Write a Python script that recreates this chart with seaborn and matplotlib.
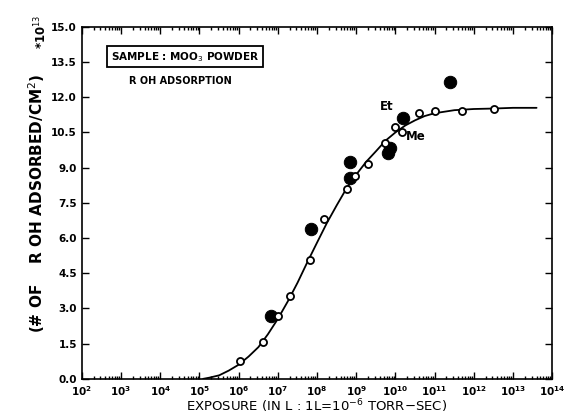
import numpy as np
import pandas as pd
import matplotlib
matplotlib.use("Agg")
import matplotlib.pyplot as plt
import matplotlib.ticker as mticker
import seaborn as sns

# ---------------------------------------------------------------
# Data, exposure in Langmuir
# ---------------------------------------------------------------
me_exp = [1.1e6, 4.2e6, 1.0e7, 2.1e7, 6.5e7, 1.55e8, 5.8e8, 9.1e8, 2.0e9,
          5.5e9, 9.8e9, 1.5e10, 3.9e10, 1.0e11, 4.9e11, 3.3e12]
me_ads = [0.74, 1.59, 2.68, 3.51, 5.07, 6.82, 8.10, 8.65, 9.16,
          10.04, 10.72, 10.50, 11.32, 11.43, 11.43, 11.50]

et_exp = [6.9e6, 7.1e7, 6.9e8, 7.0e8, 6.6e9, 7.4e9, 1.6e10, 2.5e11]
et_ads = [2.68, 6.38, 9.23, 8.58, 9.62, 9.83, 11.13, 12.67]

# fitted curve, read at quarter-decade steps
fit_exp = [1.25e5, 1.8e5, 3.2e5, 5.6e5, 1.0e6, 1.8e6, 3.2e6, 5.6e6, 1.0e7,
           1.8e7, 3.2e7, 5.6e7, 1.0e8, 1.8e8, 3.2e8, 5.6e8, 1.0e9, 1.8e9,
           3.2e9, 5.6e9, 1.0e10, 1.8e10, 3.2e10, 5.6e10, 1.0e11, 3.2e11,
           1.0e12, 3.2e12, 1.0e13, 4.0e13]
fit_ads = [0.0, 0.05, 0.15, 0.35, 0.6, 0.95, 1.35, 1.9, 2.55,
           3.3, 4.1, 4.95, 5.8, 6.65, 7.4, 8.1, 8.7, 9.25,
           9.7, 10.15, 10.5, 10.8, 11.02, 11.2, 11.32, 11.45,
           11.5, 11.52, 11.55, 11.55]

y_ticks = [0.0, 1.5, 3.0, 4.5, 6.0, 7.5, 9.0, 10.5, 12.0, 13.5, 15.0]

me = pd.DataFrame({"exposure": me_exp, "ads": me_ads})
et = pd.DataFrame({"exposure": et_exp, "ads": et_ads})
fit = pd.DataFrame({"exposure": fit_exp, "ads": fit_ads})

# ---------------------------------------------------------------
# Plot
# ---------------------------------------------------------------
sns.set_style("ticks")
plt.rcParams["font.family"] = ["DejaVu Sans"]
for k in ["text.color", "axes.labelcolor", "xtick.color", "ytick.color",
          "axes.edgecolor"]:
    plt.rcParams[k] = "black"

fig = plt.figure(figsize=(5.64, 4.2), dpi=100)
ax = fig.add_axes([0.145, 0.098, 0.834, 0.838])

sns.lineplot(data=fit, x="exposure", y="ads", ax=ax, color="black", lw=1.3,
             sort=False)
sns.scatterplot(data=et, x="exposure", y="ads", ax=ax, color="black",
                s=80, edgecolor="black", zorder=3)
sns.scatterplot(data=me, x="exposure", y="ads", ax=ax, facecolor="white",
                edgecolor="black", linewidth=1.3, s=26, zorder=4)

ax.set_xscale("log")
ax.set_xlim(1e2, 1e14)
ax.set_ylim(0, 15)
ax.set_yticks(y_ticks)
ax.yaxis.set_major_formatter(mticker.FormatStrFormatter("%.1f"))
ax.xaxis.set_major_locator(mticker.LogLocator(base=10, numticks=20))
ax.xaxis.set_minor_locator(mticker.LogLocator(base=10, subs=np.arange(2, 10), numticks=20))
ax.xaxis.set_minor_formatter(mticker.NullFormatter())

ax.tick_params(which="both", direction="in", top=True, right=True,
               labelsize=7.5, width=1.0)
ax.tick_params(which="major", length=5)
ax.tick_params(which="minor", length=2.5)
for lab in ax.get_yticklabels() + ax.get_xticklabels():
    lab.set_fontweight("bold")
for sp in ax.spines.values():
    sp.set_linewidth(1.2)

ax.set_xlabel("EXPOSURE (IN L : 1L=10$^{-6}$ TORR$-$SEC)", fontsize=9.5,
              labelpad=0)
ax.set_ylabel("(# OF    R OH ADSORBED/CM$^2$)", fontsize=11, labelpad=3,
              fontweight="bold")
fig.text(0.072, 0.925, "*10$^{13}$", rotation=90, fontsize=8.5,
         ha="center", va="center", fontweight="bold")

ax.text(0.062, 0.915, "SAMPLE : MOO$_3$ POWDER", transform=ax.transAxes,
        fontsize=7.5, fontweight="bold", va="center",
        bbox=dict(boxstyle="square,pad=0.35", fc="white", ec="black", lw=1.3))
ax.text(0.10, 0.845, "R OH ADSORPTION", transform=ax.transAxes,
        fontsize=7, fontweight="bold", va="center")
ax.text(4.0e9, 11.45, "Et", fontsize=8.5, fontweight="bold")
ax.text(1.9e10, 10.2, "Me", fontsize=8.5, fontweight="bold")

plt.savefig("out.png", dpi=100)
